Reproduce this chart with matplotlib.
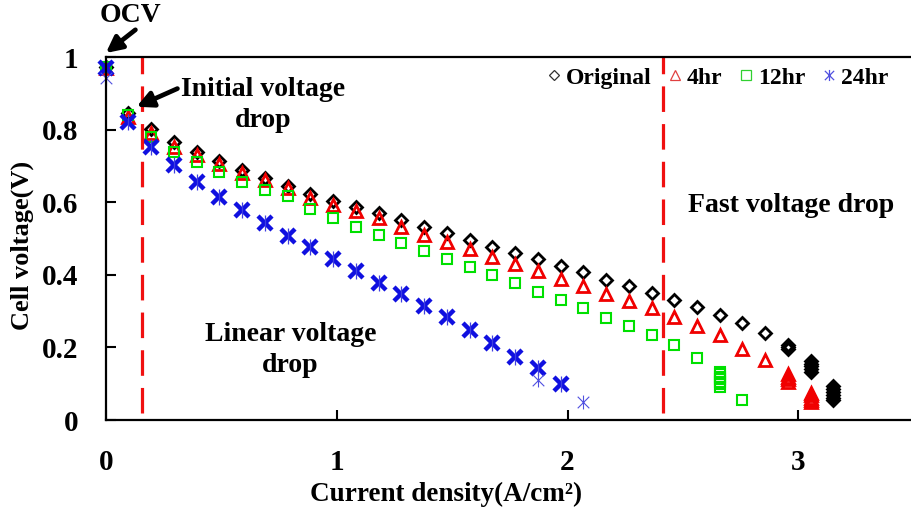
import numpy as np
import matplotlib
matplotlib.use("Agg")
import matplotlib.pyplot as plt
from matplotlib.path import Path
from matplotlib.lines import Line2D

plt.rcParams['font.family'] = ['Liberation Serif', 'DejaVu Serif']
plt.rcParams['font.weight'] = 'bold'

# current density steps (A/cm2)
cd = [0.000, 0.098, 0.197, 0.295, 0.394, 0.492, 0.591, 0.689, 0.788, 0.886,
      0.985, 1.083, 1.182, 1.280, 1.379, 1.477, 1.576, 1.674, 1.773, 1.871,
      1.970, 2.068, 2.167, 2.265, 2.364, 2.462, 2.561, 2.659, 2.758, 2.856,
      2.955, 3.053, 3.152]

# cell voltage (V), one value per step
v_orig = [0.972, 0.847, 0.803, 0.767, 0.739, 0.714, 0.690, 0.668, 0.645, 0.624,
          0.602, 0.586, 0.571, 0.551, 0.533, 0.514, 0.496, 0.477, 0.460, 0.443,
          0.425, 0.407, 0.386, 0.369, 0.350, 0.332, 0.311, 0.289, 0.266, 0.239]
v_4hr = [0.970, 0.835, 0.790, 0.753, 0.730, 0.705, 0.681, 0.661, 0.638, 0.613,
         0.593, 0.576, 0.556, 0.533, 0.510, 0.491, 0.470, 0.450, 0.431, 0.411,
         0.389, 0.369, 0.347, 0.328, 0.308, 0.283, 0.259, 0.234, 0.197, 0.165]
v_12hr = [0.972, 0.840, 0.780, 0.738, 0.712, 0.684, 0.657, 0.634, 0.618, 0.581,
          0.556, 0.533, 0.510, 0.487, 0.466, 0.443, 0.422, 0.399, 0.377, 0.353,
          0.331, 0.308, 0.280, 0.259, 0.233, 0.207, 0.170]
v_24hr = [0.970, 0.822, 0.753, 0.702, 0.657, 0.615, 0.579, 0.542, 0.507, 0.477,
          0.443, 0.411, 0.378, 0.347, 0.314, 0.283, 0.248, 0.211, 0.174, 0.142,
          0.099]

# voltage drift during hold at the last steps (blobs)
orig_hold_x = [2.955, 2.955, 2.955, 3.053, 3.053, 3.053, 3.053, 3.053,
               3.152, 3.152, 3.152, 3.152, 3.152, 3.152]
orig_hold_y = [0.208, 0.202, 0.196, 0.163, 0.155, 0.148, 0.140, 0.133,
               0.093, 0.085, 0.077, 0.069, 0.061, 0.054]
h4_hold_x = [2.955, 2.955, 2.955, 2.955, 3.053, 3.053, 3.053, 3.053, 3.053]
h4_hold_y = [0.126, 0.119, 0.112, 0.105, 0.075, 0.068, 0.062, 0.055, 0.049]
h12_hold_x = [2.659, 2.659, 2.659, 2.659, 2.659, 2.659, 2.659, 2.758]
h12_hold_y = [0.133, 0.126, 0.119, 0.112, 0.105, 0.098, 0.091, 0.055]
h24_single_x = [0.000, 1.871, 2.068]
h24_single_y = [0.941, 0.110, 0.050]

# thin asterisk marker for single points / legend
ast = Path([(-1, -1), (1, 1), (-1, 1), (1, -1), (0, -1.2), (0, 1.2)],
           [Path.MOVETO, Path.LINETO, Path.MOVETO, Path.LINETO, Path.MOVETO, Path.LINETO])

c_k, c_r, c_g, c_b = '#000000', '#f00000', '#00e000', '#1010e0'

fig = plt.figure(figsize=(9.11, 5.16), dpi=100)
ax = fig.add_axes([0.1162, 0.186, 0.8838, 0.7035])

kw = dict(linestyle='none', markerfacecolor='none', clip_on=False)
ax.plot(cd[:len(v_orig)], v_orig, marker='D', ms=6.2, mew=2, mec=c_k, **kw)
ax.plot(orig_hold_x, orig_hold_y, marker='D', ms=6.2, mew=2, mec=c_k, **kw)
ax.plot(cd[:len(v_4hr)], v_4hr, marker='^', ms=8.5, mew=2, mec=c_r, **kw)
ax.plot(h4_hold_x, h4_hold_y, marker='^', ms=8.5, mew=2, mec=c_r, **kw)
ax.plot(cd[:len(v_12hr)], v_12hr, marker='s', ms=7.5, mew=1.5, mec=c_g, **kw)
ax.plot(h12_hold_x, h12_hold_y, marker='s', ms=7.5, mew=1.5, mec=c_g, **kw)
ax.plot(cd[:len(v_24hr)], v_24hr, marker='x', ms=9.5, mew=3.2, mec=c_b, **kw)
ax.plot(cd[:len(v_24hr)], v_24hr, marker='|', ms=11, mew=0.9, mec='#4040e0', **kw)
ax.plot(h24_single_x, h24_single_y, marker=ast, ms=10, mew=0.8, mec='#5050e0', **kw)

# region boundaries
for xv in [0.155, 2.415]:
    ax.plot([xv, xv], [0.018, 1.0], color='#f01010', lw=2.3,
            linestyle=(0, (8, 3.8)), clip_on=False)

ax.set_xlim(0, 3.488)
ax.set_ylim(0, 1)
ax.set_xticks([0, 1, 2, 3])
ax.set_xticklabels(['0', '1', '2', '3'])
ax.set_yticks([0, 0.2, 0.4, 0.6, 0.8, 1.0])
ax.set_yticklabels(['0', '0.2', '0.4', '0.6', '0.8', '1'])
ax.tick_params(direction='in', length=7, width=1.5, labelsize=21)
ax.tick_params(axis='y', pad=20)
ax.tick_params(axis='x', pad=21)
for s in ['left', 'bottom', 'top']:
    ax.spines[s].set_linewidth(1.6)
ax.spines['right'].set_visible(False)

fig.text(0.024, 0.525, 'Cell voltage(V)', rotation=90, ha='center', va='center', fontsize=19)
fig.text(0.49, 0.041, 'Current density(A/cm²)', ha='center', va='center', fontsize=19.5)

arr = dict(arrowstyle='-|>', color='black', lw=3.4, mutation_scale=24)
ax.text(0.105, 1.115, 'OCV', ha='center', va='center', fontsize=20, clip_on=False)
ax.annotate('', xy=(0.0, 1.011), xytext=(0.128, 1.075),
            arrowprops=dict(arr, shrinkA=0, shrinkB=0), annotation_clip=False)
ax.annotate('', xy=(0.133, 0.863), xytext=(0.31, 0.913),
            arrowprops=dict(arr, shrinkA=0, shrinkB=0), annotation_clip=False)
ax.text(0.68, 0.868, 'Initial voltage\ndrop', ha='center', va='center', fontsize=20,
        linespacing=1.3)
ax.text(0.80, 0.192, 'Linear voltage\ndrop', ha='center', va='center', fontsize=20,
        linespacing=1.3)
ax.text(2.97, 0.592, 'Fast voltage drop', ha='center', va='center', fontsize=20)

handles = [
    Line2D([], [], linestyle='none', marker='D', ms=5, mew=0.9, mfc='none', mec='#303030'),
    Line2D([], [], linestyle='none', marker='^', ms=7.5, mew=0.9, mfc='none', mec='#e04040'),
    Line2D([], [], linestyle='none', marker='s', ms=7, mew=0.9, mfc='none', mec='#30d030'),
    Line2D([], [], linestyle='none', marker=ast, ms=8, mew=0.9, mec='#5050e0'),
]
fig.legend(handles, ['Original', '4hr', '12hr', '24hr'], ncol=4, frameon=False,
           loc='center right', bbox_to_anchor=(0.985, 1 - 78 / 516), fontsize=17,
           handlelength=0.6, handletextpad=0.2, columnspacing=0.7, borderaxespad=0)

fig.savefig('out.png', dpi=100)
